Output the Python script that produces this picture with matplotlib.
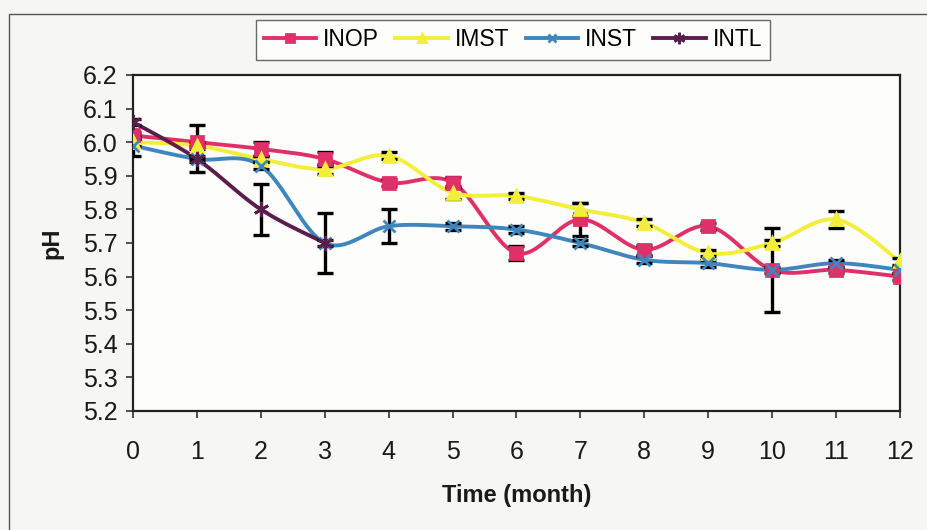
import numpy as np
import matplotlib
matplotlib.use("Agg")
import matplotlib.pyplot as plt
from matplotlib.patches import Rectangle

plt.rcParams['font.family'] = ['Liberation Sans', 'DejaVu Sans']

months = list(range(13))

inop = [6.02, 6.00, 5.98, 5.95, 5.88, 5.88, 5.67, 5.77, 5.68, 5.75, 5.62, 5.62, 5.60]
inop_err = [0.01, 0.05, 0.02, 0.02, 0.01, 0.015, 0.02, 0.05, 0.015, 0.01, 0.01, 0.01, 0.01]

imst = [6.00, 5.99, 5.95, 5.92, 5.96, 5.85, 5.84, 5.80, 5.76, 5.67, 5.70, 5.77, 5.645]
imst_err = [0.01, 0.01, 0.01, 0.015, 0.01, 0.02, 0.01, 0.02, 0.01, 0.01, 0.01, 0.025, 0.01]

inst = [5.99, 5.95, 5.93, 5.70, 5.75, 5.75, 5.74, 5.70, 5.65, 5.64, 5.62, 5.64, 5.62]
inst_err = [0.03, 0.01, 0.01, 0.01, 0.05, 0.01, 0.01, 0.01, 0.01, 0.01, 0.125, 0.01, 0.01]

intl_months = [0, 1, 2, 3]
intl = [6.06, 5.95, 5.80, 5.70]
intl_err = [0.01, 0.04, 0.075, 0.09]

y_ticks = [5.2, 5.3, 5.4, 5.5, 5.6, 5.7, 5.8, 5.9, 6.0, 6.1, 6.2]


def smooth(x, y, n=30):
    """Catmull-Rom style smoothed curve through the points (spreadsheet-like)."""
    x = np.asarray(x, float)
    y = np.asarray(y, float)
    px = np.concatenate([[x[0]], x, [x[-1]]])
    py = np.concatenate([[y[0]], y, [y[-1]]])
    xs, ys = [], []
    t = np.linspace(0, 1, n)
    for i in range(1, len(px) - 2):
        p0 = np.array([px[i], py[i]])
        p3 = np.array([px[i + 1], py[i + 1]])
        p1 = p0 + (np.array([px[i + 1], py[i + 1]]) - np.array([px[i - 1], py[i - 1]])) / 6
        p2 = p3 - (np.array([px[i + 2], py[i + 2]]) - np.array([px[i], py[i]])) / 6
        b = ((1 - t) ** 3)[:, None] * p0 + (3 * (1 - t) ** 2 * t)[:, None] * p1 \
            + (3 * (1 - t) * t ** 2)[:, None] * p2 + (t ** 3)[:, None] * p3
        xs.extend(b[:, 0])
        ys.extend(b[:, 1])
    return np.array(xs), np.array(ys)


fig = plt.figure(figsize=(9.28, 5.30), dpi=100)
fig.patch.set_facecolor('#f6f6f4')
fig.patches.append(Rectangle((9 / 928, -0.05), 1.2, 1 - 14 / 530 + 0.05,
                             transform=fig.transFigure, fill=False,
                             edgecolor='#555555', lw=1.0))

ax = fig.add_axes([133 / 928, 1 - 411 / 530, (900 - 133) / 928, (411 - 75) / 530])
ax.set_facecolor('#fdfdfc')

series = [
    ('INOP', months, inop, inop_err, '#e0306a', 's', 8),
    ('IMST', months, imst, imst_err, '#f2ee3a', '^', 8),
    ('INST', months, inst, inst_err, '#3f86bd', 'x', 8),
    ('INTL', intl_months, intl, intl_err, '#5a1e4c', (6, 2, 0), 11),
]

handles = []
for name, xv, yv, ev, col, mk, ms in series:
    sx, sy = smooth(xv, yv)
    ax.plot(sx, sy, color=col, lw=2.8, zorder=3, solid_capstyle='round')
    ax.errorbar(xv, yv, yerr=ev, fmt='none', ecolor='black', elinewidth=2.4,
                capsize=5.5, capthick=2.4, zorder=4)
    ax.plot(xv, yv, ls='none', marker=mk, ms=ms, color=col,
            markeredgecolor=col, mew=2.0, zorder=5)
    h, = ax.plot([], [], color=col, lw=2.8, marker=mk, ms=ms * 0.75, mew=2.0,
                 markeredgecolor=col, label=name)
    handles.append(h)

ax.set_xlim(0, 12)
ax.set_ylim(5.2, 6.2)
ax.set_xticks(months)
ax.set_yticks(y_ticks)
ax.set_yticklabels([f'{v:.1f}' for v in y_ticks])
ax.tick_params(axis='both', direction='out', length=5, width=1.2,
               labelsize=18, color='#333333', labelcolor='#1a1a1a')
ax.tick_params(axis='x', pad=16)
ax.tick_params(axis='y', pad=6)
for s in ax.spines.values():
    s.set_linewidth(1.6)
    s.set_color('#222222')

ax.set_xlabel('Time (month)', fontsize=17, fontweight='bold', labelpad=14,
              color='#1a1a1a')
ax.set_ylabel('pH', fontsize=17, fontweight='bold', labelpad=14, color='#1a1a1a')

leg = fig.legend(handles=handles, loc='center', ncol=4,
                 bbox_to_anchor=(513 / 928, 1 - 40 / 530), fontsize=16.5,
                 frameon=True, fancybox=False, handlelength=2.3,
                 handletextpad=0.3, columnspacing=0.7, borderpad=0.35,
                 edgecolor='#444444')
leg.get_frame().set_linewidth(1.0)
leg.get_frame().set_facecolor('white')

fig.savefig('out.png', dpi=100, facecolor=fig.get_facecolor())
